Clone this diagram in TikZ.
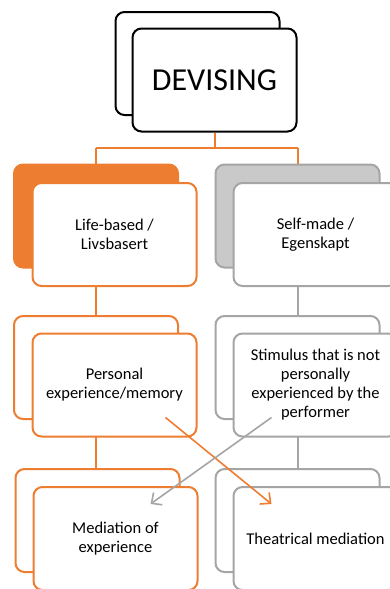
\documentclass[tikz,border=0pt]{standalone}
\usepackage{fontspec}
\setmainfont{Carlito}
\usetikzlibrary{arrows.meta,calc}
\definecolor{accent}{HTML}{ED7D31}
\definecolor{greyline}{HTML}{A5A5A5}
\definecolor{greyfill}{HTML}{C9C9C9}
\tikzset{
  card/.style={rounded corners=9pt, line width=2pt, minimum width=164pt, minimum height=103pt, inner sep=0pt},
  backcard/.style={card},
  frontcard/.style={card, fill=white, align=center, font=\fontsize{16.5}{19}\selectfont, text=black},
  link/.style={line width=2pt},
  cross/.style={line width=1.6pt, -{Straight Barb[length=8pt,width=15pt]}}
}
\begin{document}
\begin{tikzpicture}[x=1pt,y=-1pt]
\useasboundingbox (0,0) rectangle (389,589);

% top card
\node[backcard, draw=black] (devB) at (197.5,63.5) {};
\node[frontcard, draw=black, font=\fontsize{32}{38}\selectfont] (devF) at (214.5,80) {DEVISING};

% orange tree from the top card
\draw[link, accent] (devF.south) -- ++(0,16) coordinate (fork);
\draw[link, accent] (96,148) -- (297.5,148);
\draw[link, accent] (96,148) -- (96,520);
\draw[link, accent] (297.5,148) -- (297.5,180);
\draw[link, greyline] (297.5,250) -- (297.5,520);

% row 1
\node[backcard, draw=accent, fill=accent] (lifeB) at (96,216) {};
\node[frontcard, draw=accent] (lifeF) at (114.5,234.5) {Life-based /\\Livsbasert};
\node[backcard, draw=greyline, fill=greyfill] (selfB) at (297.5,216) {};
\node[frontcard, draw=greyline] (selfF) at (315.5,234.5) {Self-made /\\Egenskapt};

% row 2
\node[backcard, draw=accent, fill=white] (persB) at (96,367.5) {};
\node[frontcard, draw=accent] (persF) at (114.5,385) {Personal\\experience/memory};
\node[backcard, draw=greyline, fill=white] (stimB) at (297.5,367.5) {};
\node[frontcard, draw=greyline] (stimF) at (315.5,385) {Stimulus that is not\\personally\\experienced by the\\performer};

% row 3
\node[backcard, draw=accent, fill=white] (medB) at (97.5,520.5) {};
\node[frontcard, draw=accent] (medF) at (115.5,538.5) {Mediation of\\experience};
\node[backcard, draw=greyline, fill=white] (theB) at (297.5,520.5) {};
\node[frontcard, draw=greyline] (theF) at (315.5,538.5) {Theatrical mediation};

% crossing arrows
\draw[cross, accent] ($(persF.south east)+(-32,-20)$) -- ($(theF.north west)+(39,18)$);
\draw[cross, greyline] ($(stimF.south west)+(39,-20)$) -- ($(medF.north east)+(-48,18)$);
\end{tikzpicture}
\end{document}
